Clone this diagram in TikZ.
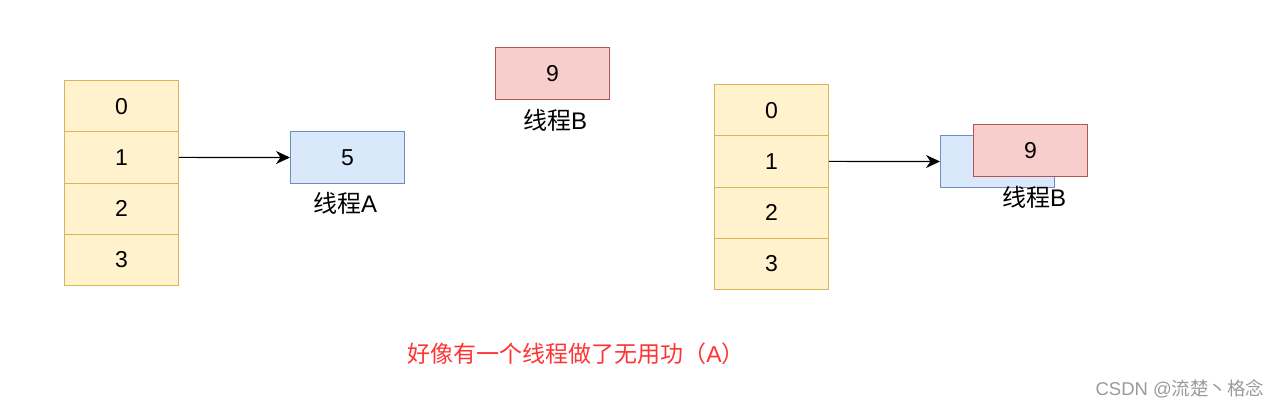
\documentclass[tikz,border=0pt]{standalone}
\usepackage{fontspec}
\usetikzlibrary{arrows.meta}
\setmainfont{Liberation Sans}
\newfontfamily\cjk{Noto Sans CJK SC}
\definecolor{yfill}{HTML}{FFF2CC}
\definecolor{ydraw}{HTML}{D6B656}
\definecolor{bfill}{HTML}{DAE8FC}
\definecolor{bdraw}{HTML}{6C8EBF}
\definecolor{rfill}{HTML}{F8CECC}
\definecolor{rdraw}{HTML}{B85450}
\definecolor{redtxt}{HTML}{FF3333}
\definecolor{wm}{HTML}{9A9A9A}
\begin{document}
\begin{tikzpicture}[x=1pt,y=-1pt,
  cell/.style={draw=ydraw,fill=yfill,line width=1pt,minimum width=114pt,minimum height=51.25pt,inner sep=0pt,font=\fontsize{23}{26}\selectfont,anchor=north west},
  bbox/.style={draw=bdraw,fill=bfill,line width=1pt,minimum width=114pt,minimum height=52pt,inner sep=0pt,font=\fontsize{23}{26}\selectfont,anchor=north west},
  rbox/.style={draw=rdraw,fill=rfill,line width=1pt,minimum width=114pt,minimum height=52pt,inner sep=0pt,font=\fontsize{23}{26}\selectfont,anchor=north west},
  lbl/.style={font=\fontsize{24}{27}\selectfont,inner sep=0pt},
  arr/.style={-{Stealth[length=14pt,width=13pt,inset=4.5pt]},line width=1.2pt}]
\useasboundingbox (0,0) rectangle (1281,410);
% left column
\node[cell] (l0) at (64,80) {0};
\node[cell] (l1) at (64,131.25) {1};
\node[cell] (l2) at (64,182.5) {2};
\node[cell] (l3) at (64,233.75) {3};
\node[bbox] (a) at (290,131) {5};
\node[lbl] (alab) at (345,203) {{\cjk 线程}A};
\draw[arr] (l1.east) -- (a.west);
% middle
\node[rbox] (b) at (495,47) {9};
\node[lbl] (blab) at (555,120) {{\cjk 线程}B};
% right column
\node[cell] (r0) at (714,84) {0};
\node[cell] (r1) at (714,135.25) {1};
\node[cell] (r2) at (714,186.5) {2};
\node[cell] (r3) at (714,237.75) {3};
\node[bbox] (a2) at (940,135) {};
\node[rbox] (b2) at (973,124) {9};
\node[lbl] (b2lab) at (1034,197) {{\cjk 线程}B};
\draw[arr] (r1.east) -- (a2.west);
% caption
\node[font=\fontsize{23}{26}\selectfont,inner sep=0pt,text=redtxt] (cap) at (576,354) {{\cjk 好像有一个线程做了无用功（}A{\cjk ）}};
\node[font=\fontsize{18.5}{21}\selectfont,text=wm,inner sep=0pt] (wmk) at (1180,389) {CSDN @{\cjk 流楚丶格念}};
\end{tikzpicture}
\end{document}
